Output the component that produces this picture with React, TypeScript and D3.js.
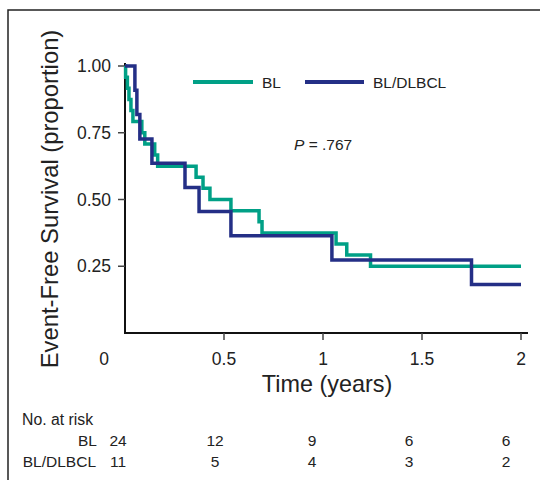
import React from "react";
import * as d3 from "d3";

const blTimes = [0.003, 0.012, 0.02, 0.03, 0.04, 0.085, 0.1, 0.15, 0.165, 0.359, 0.394, 0.429, 0.535, 0.677, 0.692, 1.066, 1.12, 1.24];
const blSurv = [0.958, 0.917, 0.875, 0.833, 0.792, 0.75, 0.708, 0.667, 0.625, 0.583, 0.542, 0.5, 0.458, 0.417, 0.375, 0.333, 0.292, 0.25];
const mixTimes = [0.05, 0.06, 0.075, 0.136, 0.303, 0.374, 0.535, 1.045, 1.75];
const mixSurv = [0.909, 0.818, 0.727, 0.636, 0.545, 0.455, 0.364, 0.273, 0.182];
const xTicks = [0, 0.5, 1, 1.5, 2];
const xTickLabels = ["0", "0.5", "1", "1.5", "2"];
const yTicks = [0.25, 0.5, 0.75, 1];
const yTickLabels = ["0.25", "0.50", "0.75", "1.00"];
const riskTimes = [0, 0.5, 1, 1.5, 2];
const blRisk = [24, 12, 9, 6, 6];
const mixRisk = [11, 5, 4, 3, 2];
const seriesNames = ["BL", "BL/DLBCL"];
const GREEN = "#00a086";
const BLUE = "#242f86";
const FONT = "'Liberation Sans', Arial, sans-serif";

export default function App() {
  const x = d3.scaleLinear().domain([0, 2]).range([125, 521]);
  const y = d3.scaleLinear().domain([0, 1]).range([333, 66]);
  const xr = d3.scaleLinear().domain([0, 2]).range([118, 506]);
  const line = d3
    .line<[number, number]>()
    .x((d) => x(d[0]))
    .y((d) => y(d[1]))
    .curve(d3.curveStepAfter);
  const mk = (ts: number[], ss: number[]): [number, number][] => {
    const pts: [number, number][] = [[0, 1]];
    ts.forEach((t, i) => pts.push([t, ss[i]]));
    pts.push([2, ss[ss.length - 1]]);
    return pts;
  };
  const blPath = line(mk(blTimes, blSurv)) || "";
  const mixPath = line(mk(mixTimes, mixSurv)) || "";

  return (
    <svg
      width={540}
      height={480}
      style={{ position: "absolute", left: 0, top: 0, background: "#fff" }}
      fontFamily={FONT}
    >
      <rect x={0} y={0} width={540} height={480} fill="#fff" />
      <rect x={8} y={10} width={560} height={500} fill="none" stroke="#222" strokeWidth={1.5} />

      {/* axes */}
      <line x1={x(0)} x2={x(0)} y1={63} y2={y(0)} stroke="#111" strokeWidth={2} />
      <line x1={x(0) - 1} x2={528} y1={y(0)} y2={y(0)} stroke="#111" strokeWidth={2} />
      {yTicks.map((t, i) => (
        <g key={"yt" + i}>
          <line x1={x(0) - 7} x2={x(0)} y1={y(t)} y2={y(t)} stroke="#444" strokeWidth={1.5} />
          <text x={x(0) - 14} y={y(t) + 6} textAnchor="end" fontSize={17.5} fill="#222">
            {yTickLabels[i]}
          </text>
        </g>
      ))}
      {xTicks.map((t, i) => (
        <g key={"xt" + i}>
          {i > 0 && <line x1={x(t)} x2={x(t)} y1={y(0)} y2={y(0) + 7} stroke="#444" strokeWidth={1.5} />}
          <text x={i === 0 ? x(t) - 21 : x(t)} y={365} textAnchor="middle" fontSize={17.5} fill="#222">
            {xTickLabels[i]}
          </text>
        </g>
      ))}
      <text x={327} y={392} textAnchor="middle" fontSize={23.4} fill="#222">
        Time (years)
      </text>
      <text
        transform={`translate(58,199) rotate(-90)`}
        textAnchor="middle"
        fontSize={23.8}
        fill="#222"
      >
        Event-Free Survival (proportion)
      </text>

      {/* curves */}
      <path d={blPath} fill="none" stroke={GREEN} strokeWidth={3.5} />
      <path d={mixPath} fill="none" stroke={BLUE} strokeWidth={3.5} />

      {/* legend */}
      <line x1={193} x2={253} y1={82} y2={82} stroke={GREEN} strokeWidth={4} />
      <text x={262} y={88} fontSize={15.5} fill="#222">{seriesNames[0]}</text>
      <line x1={305} x2={364} y1={82} y2={82} stroke={BLUE} strokeWidth={4} />
      <text x={373} y={88} fontSize={15.5} fill="#222">{seriesNames[1]}</text>

      <text x={294} y={150} fontSize={15.5} fill="#222">
        <tspan fontStyle="italic">P</tspan> = .767
      </text>

      {/* risk table */}
      <text x={22} y={425} fontSize={15.8} fill="#222">No. at risk</text>
      <text x={97} y={446} textAnchor="end" fontSize={15.5} fill="#222">{seriesNames[0]}</text>
      <text x={96} y={467} textAnchor="end" fontSize={15.5} fill="#222">{seriesNames[1]}</text>
      {riskTimes.map((t, i) => (
        <g key={"r" + i}>
          <text x={xr(t)} y={446} textAnchor="middle" fontSize={15.5} fill="#222">{blRisk[i]}</text>
          <text x={xr(t)} y={467} textAnchor="middle" fontSize={15.5} fill="#222">{mixRisk[i]}</text>
        </g>
      ))}
    </svg>
  );
}
